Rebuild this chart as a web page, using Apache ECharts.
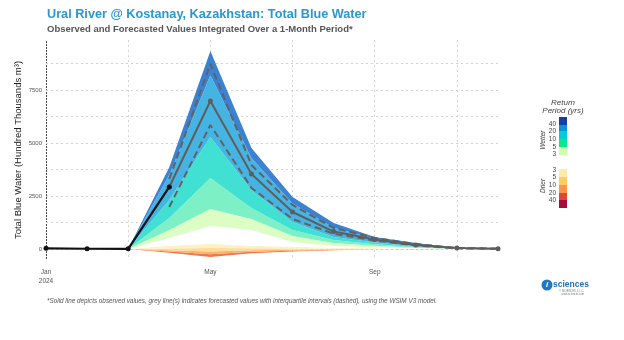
<!DOCTYPE html>
<html>
<head>
<meta charset="utf-8">
<script src="https://cdn.jsdelivr.net/npm/echarts@6/dist/echarts.min.js"></script>
<style>html,body{margin:0;padding:0;background:#fff;}#c{width:624px;height:340px;}</style>
</head>
<body>
<div id="c"></div>
<script>
// ---- data ----
const months = ['Jan','Feb','Mar','Apr','May','Jun','Jul','Aug','Sep','Oct','Nov','Dec'];
const xTickLabels = ['Jan\n2024','','','','May','','','','Sep','','',''];
const yGridValues = [0,1250,2500,3750,5000,6250,7500,8750];
const yTickLabels = [0,2500,5000,7500];

const observed = [30, 10, 5, 2925, null, null, null, null, null, null, null, null];
const forecastMedian = [null, null, null, 2925, 6980, 3540, 1745, 820, 450, 190, 40, 10];
const forecastUpper  = [null, null, null, 3300, 8730, 3960, 2075, 990, 520, 230, 50, 12];
const forecastLower  = [null, null, null, 1980, 5850, 2880, 1415, 720, 400, 160, 30, 5];

// return-period band boundaries (bottom -> top)
const dry40 = [null, null, 0, -180, -380, -200, -120, -60, -30, -10, 0, 0];
const dry20 = [null, null, 0, -120, -250, -130, -80, -40, -20, -5, 0, 0];
const dry10 = [null, null, 0, -60, -120, -60, -40, -20, -10, 0, 0, 0];
const dry5  = [null, null, 0, 20, 50, 30, 20, 10, 5, 0, 0, 0];
const dry3  = [null, null, 0, 150, 250, 150, 100, 60, 30, 10, 0, 0];
const wet3  = [null, null, 0, 520, 1085, 900, 330, 140, 80, 30, 5, 0];
const wet5  = [null, null, 0, 900, 1890, 1415, 610, 280, 150, 60, 10, 0];
const wet10 = [null, null, 0, 1460, 3350, 1930, 900, 425, 220, 90, 20, 0];
const wet20 = [null, null, 0, 2310, 5280, 2780, 1270, 570, 300, 120, 25, 0];
const wet40 = [null, null, 0, 3500, 8200, 4290, 2150, 1000, 480, 200, 40, 5];
const wetMax= [null, null, 0, 3850, 9340, 4760, 2450, 1225, 570, 280, 50, 10];

const legendWet = ['40','20','10','5','3'];
const legendDry = ['3','5','10','20','40'];
</script>
<script>
const boundaries = [dry40, dry20, dry10, dry5, dry3, wet3, wet5, wet10, wet20, wet40, wetMax];
const bandColors = ['#ee7650','#fbb46e','#fedb98','#fff1c4','#ffffff','#dcfdc4','#7ef0c6','#40e0d2','#46b4e2','#3c82d3'];

const series = [];
// grid lines + y labels
series.push({
  type: 'line', data: months.map(() => null), z: 1, silent: true,
  markLine: {
    silent: true, symbol: 'none', z: 1, animation: false,
    lineStyle: {color: '#d2d2d2', type: [2, 3], width: 1},
    data: yGridValues.map(v => ({
      yAxis: v,
      label: {show: yTickLabels.indexOf(v) >= 0, position: 'start', formatter: String(v),
              color: '#555', fontSize: 6, distance: 4, fontFamily: 'Liberation Sans'}
    }))
  }
});
// stacked bands
series.push({
  type: 'line', stack: 'bands', stackStrategy: 'all', data: boundaries[0],
  symbol: 'none', lineStyle: {width: 0}, z: 2, silent: true
});
for (let i = 1; i < boundaries.length; i++) {
  const cur = boundaries[i], prev = boundaries[i - 1];
  series.push({
    type: 'line', stack: 'bands', stackStrategy: 'all',
    data: cur.map((v, k) => (v == null || prev[k] == null) ? null : v - prev[k]),
    symbol: 'none', lineStyle: {width: 0}, z: 2, silent: true,
    areaStyle: {color: bandColors[i - 1], opacity: 1}
  });
}
// interquartile dashed
[forecastUpper, forecastLower].forEach(d => series.push({
  type: 'line', data: d, symbol: 'none', z: 3,
  lineStyle: {color: '#626262', width: 2, type: [7, 4]}
}));
series.push({
  type: 'line', data: forecastMedian, z: 4, symbol: 'circle', symbolSize: 5,
  itemStyle: {color: '#5e5e5e'}, lineStyle: {color: '#5e5e5e', width: 2}
});
series.push({
  type: 'line', data: observed, z: 5, symbol: 'circle', symbolSize: 5,
  itemStyle: {color: '#111'}, lineStyle: {color: '#111', width: 2.2}
});

// legend graphic
const g = [];
const F = 'Liberation Sans';
g.push({type: 'text', left: 47, top: 8, style: {text: 'Ural River @ Kostanay, Kazakhstan: Total Blue Water', fill: '#2b97d1', font: 'bold 12.7px "Liberation Sans"'}});
g.push({type: 'text', left: 47, top: 24, style: {text: 'Observed and Forecasted Values Integrated Over a 1-Month Period*', fill: '#555', font: 'bold 9.5px "Liberation Sans"'}});
g.push({type: 'text', x: 18, y: 150, rotation: Math.PI / 2,
  style: {text: 'Total Blue Water (Hundred Thousands m³)', fill: '#222', font: '9.5px "Liberation Sans"', align: 'center', verticalAlign: 'middle'}});
g.push({type: 'text', x: 47, y: 301, style: {text: '*Solid line depicts observed values, grey line(s) indicates forecasted values with interquartile intervals (dashed), using the WSIM V3 model.', fill: '#555', font: 'italic 6.35px "Liberation Sans"', verticalAlign: 'middle'}});

g.push({type: 'text', x: 563, y: 103, style: {text: 'Return', fill: '#444', font: 'italic 8px "Liberation Sans"', align: 'center', verticalAlign: 'middle'}});
g.push({type: 'text', x: 563, y: 111, style: {text: 'Period (yrs)', fill: '#444', font: 'italic 8px "Liberation Sans"', align: 'center', verticalAlign: 'middle'}});
const boxes = [
  [117, 125, '#153ea8'], [125, 131, '#0096dc'], [131, 139, '#00cdd7'], [139, 147, '#00eb8c'], [147, 155, '#cdffaf'],
  [155, 169, '#ffffff'],
  [169, 177, '#ffebaa'], [177, 185, '#ffcd64'], [185, 193, '#ff9646'], [193, 200, '#e14632'], [200, 208, '#aa0a3c']
];
boxes.forEach(b => g.push({type: 'rect', shape: {x: 559, y: b[0], width: 8, height: b[1] - b[0]}, style: {fill: b[2]}}));
const wetY = [124, 131, 139, 147, 154];
const dryY = [170, 177, 185, 193, 200];
legendWet.forEach((t, i) => g.push({type: 'text', x: 556, y: wetY[i], style: {text: t, fill: '#444', font: '6.5px "Liberation Sans"', align: 'right', verticalAlign: 'middle'}}));
legendDry.forEach((t, i) => g.push({type: 'text', x: 556, y: dryY[i], style: {text: t, fill: '#444', font: '6.5px "Liberation Sans"', align: 'right', verticalAlign: 'middle'}}));
g.push({type: 'text', x: 543, y: 140, rotation: Math.PI / 2, style: {text: 'Wetter', fill: '#444', font: 'italic 6.5px "Liberation Sans"', align: 'center', verticalAlign: 'middle'}});
g.push({type: 'text', x: 543, y: 186, rotation: Math.PI / 2, style: {text: 'Drier', fill: '#444', font: 'italic 6.5px "Liberation Sans"', align: 'center', verticalAlign: 'middle'}});

// logo
g.push({type: 'circle', shape: {cx: 547, cy: 285, r: 5.5}, style: {fill: '#1f78c1'}});
g.push({type: 'text', x: 547, y: 285, style: {text: 'i', fill: '#fff', font: 'bold italic 8px "Liberation Sans"', align: 'center', verticalAlign: 'middle'}});
g.push({type: 'text', x: 553, y: 285, style: {text: 'sciences', fill: '#1f6fb8', font: 'bold 8.5px "Liberation Sans"', verticalAlign: 'middle'}});
g.push({type: 'text', x: 584, y: 291, style: {text: '© ISCIENCES, L.L.C.', fill: '#777', font: '2.6px "Liberation Sans"', align: 'right', verticalAlign: 'middle'}});
g.push({type: 'text', x: 584, y: 294, style: {text: 'www.isciences.com', fill: '#777', font: '2.6px "Liberation Sans"', align: 'right', verticalAlign: 'middle'}});

const chart = echarts.init(document.getElementById('c'), null, {renderer: 'canvas'});
chart.setOption({
  animation: false,
  backgroundColor: '#fff',
  grid: {left: 46, right: 126, top: 40, bottom: 81.5, containLabel: false},
  xAxis: {
    type: 'category', data: months, boundaryGap: false,
    axisLine: {show: false}, axisTick: {show: false},
    axisLabel: {interval: (i) => xTickLabels[i] !== '', formatter: (v, i) => xTickLabels[i],
                color: '#555', fontSize: 6.5, lineHeight: 9, margin: 9, fontFamily: F},
    splitLine: {show: true, interval: (i) => i % 2 === 0 && i > 0, lineStyle: {color: '#d4d4d4', type: [2, 3], width: 1}}
  },
  yAxis: {
    type: 'value', min: -450, max: 9860,
    axisLine: {show: true, onZero: false, lineStyle: {color: '#333', type: [1, 2], width: 1}},
    axisTick: {show: false}, axisLabel: {show: false}, splitLine: {show: false}
  },
  series: series,
  graphic: g
});
</script>
</body>
</html>
